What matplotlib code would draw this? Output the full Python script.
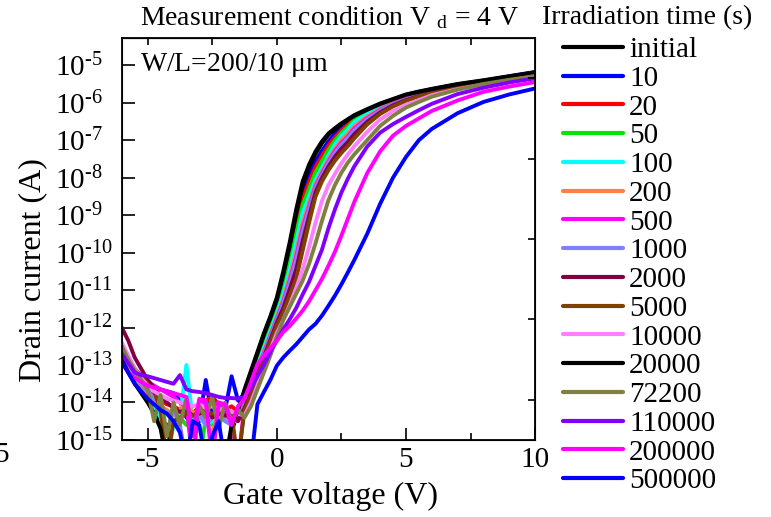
import matplotlib
matplotlib.use("Agg")
import matplotlib.pyplot as plt
import numpy as np

plt.rcParams["font.family"] = ["Liberation Serif", "DejaVu Serif"]
plt.rcParams["mathtext.fontset"] = "custom"
plt.rcParams["mathtext.rm"] = "Liberation Serif"
plt.rcParams["mathtext.it"] = "Liberation Serif:italic"
plt.rcParams["axes.unicode_minus"] = False

# gate voltage grid: off-state (noisy) part, then on-state part
vg_off = [-6.0, -5.75, -5.5, -5.25, -5.0, -4.75, -4.5, -4.25, -4.0, -3.75,
          -3.5, -3.25, -3.0, -2.75, -2.5, -2.25, -2.0, -1.75, -1.5]
vg_on = [-1.25, -1.0, -0.75, -0.5, -0.25, 0.0, 0.25, 0.5, 0.75, 1.0, 1.25,
         1.5, 1.75, 2.0, 2.25, 2.5, 2.75, 3.0, 3.5, 4.0, 4.5, 5.0, 5.5, 6.0,
         7.0, 8.0, 9.0, 10.0]

# log10(drain current)
off_initial = [-12.8, -13.15, -13.45, -13.65, -13.85, -14.2, -14.5, -14.6, -15.6, -15.6,
               -15.6, -15.6, -15.6, -15.6, -15.6, -15.6, -15.6, -14.8, -14.2]
on_initial = [-13.65, -13.15, -12.65, -12.15, -11.7, -11.2, -10.5, -9.72, -8.85, -8.1,
              -7.65, -7.3, -7.03, -6.82, -6.68, -6.55, -6.44, -6.33, -6.17, -6.02,
              -5.9, -5.78, -5.7, -5.63, -5.5, -5.4, -5.29, -5.18]

off_10 = [-12.65, -12.95, -13.3, -13.45, -13.6, -13.65, -13.65, -13.7, -13.75, -13.95,
          -14.4, -14.55, -14.5, -13.4, -14.4, -14.3, -14.2, -13.3, -13.95]
on_10 = [-13.77, -13.29, -12.79, -12.29, -11.84, -11.35, -10.72, -9.98, -9.15, -8.4,
         -7.95, -7.56, -7.28, -7.03, -6.83, -6.67, -6.54, -6.4, -6.22, -6.06,
         -5.93, -5.81, -5.72, -5.65, -5.52, -5.42, -5.3, -5.19]

off_20 = [-12.7, -13.0, -13.3, -13.5, -13.7, -13.85, -13.95, -14.05, -14.1, -14.2,
          -14.15, -14.3, -14.1, -13.95, -13.85, -14.05, -14.2, -14.1, -14.25]
on_20 = [-13.84, -13.37, -12.87, -12.37, -11.92, -11.44, -10.84, -10.13, -9.33, -8.57,
         -8.12, -7.71, -7.42, -7.14, -6.92, -6.74, -6.59, -6.43, -6.24, -6.07,
         -5.94, -5.82, -5.74, -5.66, -5.53, -5.43, -5.31, -5.2]

off_50 = [-12.6, -12.95, -13.25, -13.5, -13.75, -13.9, -14.1, -14.3, -14.5, -14.4,
          -14.6, -14.5, -15.6, -14.4, -14.6, -14.5, -14.4, -14.5, -14.3]
on_50 = [-13.91, -13.45, -12.95, -12.45, -12.0, -11.53, -10.97, -10.28, -9.5, -8.74,
         -8.29, -7.86, -7.56, -7.26, -7.01, -6.81, -6.65, -6.47, -6.27, -6.1,
         -5.96, -5.84, -5.75, -5.67, -5.55, -5.44, -5.32, -5.21]

off_100 = [-12.7, -13.05, -13.4, -13.6, -13.85, -14.1, -14.4, -15.6, -14.6, -14.4,
           -13.0, -14.5, -14.4, -14.6, -14.5, -14.3, -14.5, -14.4, -14.3]
on_100 = [-14.0, -13.55, -13.05, -12.55, -12.1, -11.64, -11.12, -10.47, -9.72, -8.95,
          -8.5, -8.05, -7.74, -7.41, -7.12, -6.89, -6.72, -6.52, -6.3, -6.12,
          -5.98, -5.86, -5.77, -5.69, -5.56, -5.45, -5.33, -5.22]

off_200 = [-12.65, -13.0, -13.3, -13.55, -13.8, -13.95, -14.1, -14.2, -14.35, -14.2,
           -13.95, -14.3, -14.2, -14.5, -14.85, -14.2, -14.4, -14.3, -14.45]
on_200 = [-14.05, -13.61, -13.11, -12.63, -12.18, -11.72, -11.24, -10.64, -9.97, -9.2,
          -8.68, -8.16, -7.83, -7.51, -7.23, -7.0, -6.83, -6.63, -6.37, -6.17,
          -6.01, -5.88, -5.79, -5.7, -5.57, -5.45, -5.34, -5.23]

off_500 = [-12.55, -12.85, -13.1, -13.3, -13.45, -13.55, -13.65, -13.75, -13.85, -14.0,
           -14.1, -15.6, -14.0, -14.05, -14.1, -14.0, -14.3, -14.5, -15.6]
on_500 = [-14.08, -13.65, -13.15, -12.67, -12.22, -11.76, -11.31, -10.74, -10.11, -9.35,
          -8.78, -8.23, -7.88, -7.57, -7.29, -7.07, -6.9, -6.69, -6.41, -6.19,
          -6.03, -5.9, -5.79, -5.71, -5.57, -5.45, -5.34, -5.23]

off_1000 = [-12.6, -12.95, -13.25, -13.5, -13.7, -13.9, -14.05, -14.3, -14.2, -14.6,
            -15.6, -14.5, -14.3, -14.6, -14.4, -14.2, -14.5, -14.6, -14.4]
on_1000 = [-14.1, -13.68, -13.18, -12.7, -12.25, -11.8, -11.36, -10.81, -10.21, -9.45,
           -8.85, -8.28, -7.92, -7.61, -7.34, -7.12, -6.94, -6.74, -6.44, -6.21,
           -6.04, -5.91, -5.8, -5.71, -5.57, -5.46, -5.34, -5.24]

off_2000 = [-12.0, -12.35, -12.8, -13.1, -13.4, -13.6, -13.85, -14.0, -14.15, -14.25,
            -14.2, -14.35, -14.3, -14.2, -14.4, -14.3, -14.35, -14.25, -14.5]
on_2000 = [-14.15, -13.74, -13.24, -12.78, -12.33, -11.87, -11.48, -10.98, -10.45, -9.7,
           -9.03, -8.39, -8.01, -7.7, -7.44, -7.23, -7.05, -6.84, -6.51, -6.26,
           -6.07, -5.93, -5.82, -5.72, -5.58, -5.46, -5.35, -5.24]

off_5000 = [-12.45, -12.8, -13.1, -13.3, -13.5, -13.7, -14.2, -15.6, -14.5, -14.4,
            -14.3, -14.35, -14.25, -14.2, -14.3, -14.25, -14.2, -14.3, -15.6]
on_5000 = [-14.2, -13.8, -13.3, -12.85, -12.4, -11.95, -11.6, -11.15, -10.7, -9.95,
           -9.2, -8.5, -8.1, -7.8, -7.55, -7.34, -7.16, -6.95, -6.58, -6.3,
           -6.1, -5.95, -5.83, -5.73, -5.58, -5.46, -5.35, -5.25]

off_10000 = [-12.4, -12.75, -13.1, -13.35, -13.55, -13.7, -13.8, -13.9, -13.95, -14.0,
             -14.05, -14.1, -14.05, -14.15, -14.1, -14.2, -14.15, -14.25, -14.3]
on_10000 = [-14.35, -14.0, -13.55, -13.05, -12.6, -12.15, -11.8, -11.4, -10.95, -10.45,
            -9.85, -9.2, -8.62, -8.2, -7.9, -7.62, -7.38, -7.16, -6.78, -6.45,
            -6.22, -6.06, -5.93, -5.8, -5.64, -5.51, -5.39, -5.27]

off_20000 = [-12.85, -13.2, -13.5, -13.75, -14.0, -14.3, -14.7, -15.6, -15.6, -15.6,
             -15.6, -15.6, -15.6, -15.6, -15.6, -15.6, -15.6, -14.6, -14.2]
on_20000 = [-13.7, -13.2, -12.7, -12.2, -11.75, -11.27, -10.6, -9.83, -8.97, -8.2,
            -7.72, -7.36, -7.08, -6.86, -6.71, -6.58, -6.46, -6.35, -6.19, -6.04,
            -5.91, -5.79, -5.71, -5.64, -5.51, -5.41, -5.3, -5.19]

off_72200 = [-12.5, -12.85, -13.15, -13.4, -13.65, -14.5, -13.8, -14.9, -14.0, -14.6,
             -13.9, -14.8, -14.1, -14.4, -13.85, -14.7, -14.0, -14.5, -14.2]
on_72200 = [-14.4, -14.1, -13.65, -13.2, -12.75, -12.25, -11.8, -11.45, -11.1, -10.75,
            -10.3, -9.75, -9.15, -8.6, -8.2, -7.87, -7.6, -7.38, -7.0, -6.62,
            -6.35, -6.13, -5.98, -5.84, -5.65, -5.5, -5.39, -5.29]

off_110000 = [-12.7, -12.95, -13.2, -13.27, -13.3, -13.35, -13.4, -13.45, -13.5, -13.27,
              -13.65, -13.7, -13.72, -13.75, -13.8, -13.85, -13.88, -13.88, -13.9]
on_110000 = [-13.85, -13.6, -13.3, -13.0, -12.65, -12.35, -12.05, -11.78, -11.48, -11.12,
             -10.78, -10.35, -9.92, -9.35, -8.85, -8.4, -8.03, -7.7, -7.17, -6.8,
             -6.57, -6.38, -6.2, -6.03, -5.77, -5.6, -5.46, -5.35]

off_200000 = [-12.95, -13.2, -13.35, -13.45, -13.55, -13.6, -13.65, -13.7, -13.75, -13.8,
              -13.85, -14.9, -13.9, -13.95, -15.6, -14.0, -14.05, -14.6, -14.1]
on_200000 = [-13.9, -13.45, -12.98, -12.75, -12.55, -12.35, -12.12, -11.96, -11.76, -11.55,
             -11.3, -11.0, -10.7, -10.35, -9.98, -9.55, -9.1, -8.65, -7.88, -7.3,
             -6.88, -6.62, -6.42, -6.22, -5.94, -5.71, -5.57, -5.45]

off_500000 = [-12.9, -13.2, -13.5, -13.7, -13.9, -14.05, -14.2, -14.3, -14.5, -14.8,
              -15.6, -14.5, -14.6, -15.6, -14.9, -14.5, -15.6, -15.6, -15.6]
on_500000 = [-15.6, -15.6, -14.05, -13.72, -13.4, -13.02, -12.8, -12.62, -12.45, -12.25,
             -12.05, -11.9, -11.68, -11.42, -11.15, -10.85, -10.53, -10.2, -9.5, -8.7,
             -8.0, -7.45, -7.0, -6.7, -6.28, -5.98, -5.78, -5.62]

labels = ["initial", "10", "20", "50", "100", "200", "500", "1000", "2000",
          "5000", "10000", "20000", "72200", "110000", "200000", "500000"]
colors = ["#000000", "#0000ff", "#ff0000", "#00e600", "#00ffff", "#ff8040",
          "#ff00ff", "#8080ff", "#800040", "#804000", "#ff80ff", "#000000",
          "#808040", "#8000ff", "#ff00ff", "#0000ff"]
offs = [off_initial, off_10, off_20, off_50, off_100, off_200, off_500, off_1000,
        off_2000, off_5000, off_10000, off_20000, off_72200, off_110000,
        off_200000, off_500000]
ons = [on_initial, on_10, on_20, on_50, on_100, on_200, on_500, on_1000,
       on_2000, on_5000, on_10000, on_20000, on_72200, on_110000,
       on_200000, on_500000]

y_exponents = list(range(-15, -4))
x_ticks = [-5, 0, 5, 10]

fig = plt.figure(figsize=(7.71, 5.17), dpi=100)
ax = fig.add_axes([0.158, 0.149, 0.536, 0.777])

vg = np.array(vg_off + vg_on)
handles = []
for lab, col, lo, hi in zip(labels, colors, offs, ons):
    ids = 10.0 ** np.array(lo + hi)
    h, = ax.plot(vg, ids, color=col, lw=2.8, solid_joinstyle="round",
                 solid_capstyle="round", label=lab)
    handles.append(h)

ax.set_yscale("log")
ax.set_xlim(-6, 10)
ax.set_ylim(1e-15, 10 ** -4.28)

ax.set_yticks([10.0 ** e for e in y_exponents])
ax.set_yticklabels([r"$10^{\text{-}%d}$" % (-e) for e in y_exponents], ha="left")
ax.yaxis.set_minor_locator(matplotlib.ticker.NullLocator())
ax.set_xticks(x_ticks)
ax.set_xticklabels([str(t) for t in x_ticks])
ax.set_xticks([-2.5, 2.5, 7.5], minor=True)

ax.tick_params(axis="y", which="major", direction="in", length=9, width=1.2,
               labelsize=21, pad=48)
ax.tick_params(axis="x", which="major", direction="in", length=9, width=1.2,
               labelsize=21, pad=5)
ax.tick_params(axis="x", which="minor", direction="in", length=5, width=1.2)
for sp in ax.spines.values():
    sp.set_linewidth(1.3)

# top ticks every 2.5 V, right ticks from an unlabeled linear axis
top = ax.secondary_xaxis("top")
top.set_xticks([-5, -2.5, 0, 2.5, 5, 7.5])
top.tick_params(direction="in", length=5, width=1.2, labeltop=False)
right = ax.twinx()
right.set_ylim(0, 1)
right.set_yticks([0.1, 0.3, 0.5, 0.7, 0.9])
right.tick_params(direction="in", length=5, width=1.2, labelright=False)

ax.set_xlabel("Gate voltage (V)", fontsize=23)
ax.xaxis.set_label_coords(0.504, -0.105)
ax.set_ylabel("Drain current (A)", fontsize=23)
ax.yaxis.set_label_coords(-0.18, 0.423)

ax.text(0.044, 0.933, r"W/L=200/10 $\mathregular{\mu}$m", transform=ax.transAxes,
        fontsize=20, va="center", ha="left")
fig.text(0.428, 0.965, r"Measurement condition V $_{\mathregular{d}}$ = 4 V",
         fontsize=20, ha="center", va="center")
fig.text(-0.008, 0.12, "5", fontsize=21, ha="left", va="center")
fig.text(0.703, 0.965, "Irradiation time (s)", fontsize=20, ha="left", va="center")

leg = fig.legend(handles=handles, loc="upper left", bbox_to_anchor=(0.730, 0.929),
                 frameon=False, fontsize=21, handlelength=2.05, handletextpad=0.22,
                 labelspacing=0.08, borderpad=0.0, borderaxespad=0)
for line in leg.get_lines():
    line.set_linewidth(3.0)

fig.savefig("out.png", dpi=100)
